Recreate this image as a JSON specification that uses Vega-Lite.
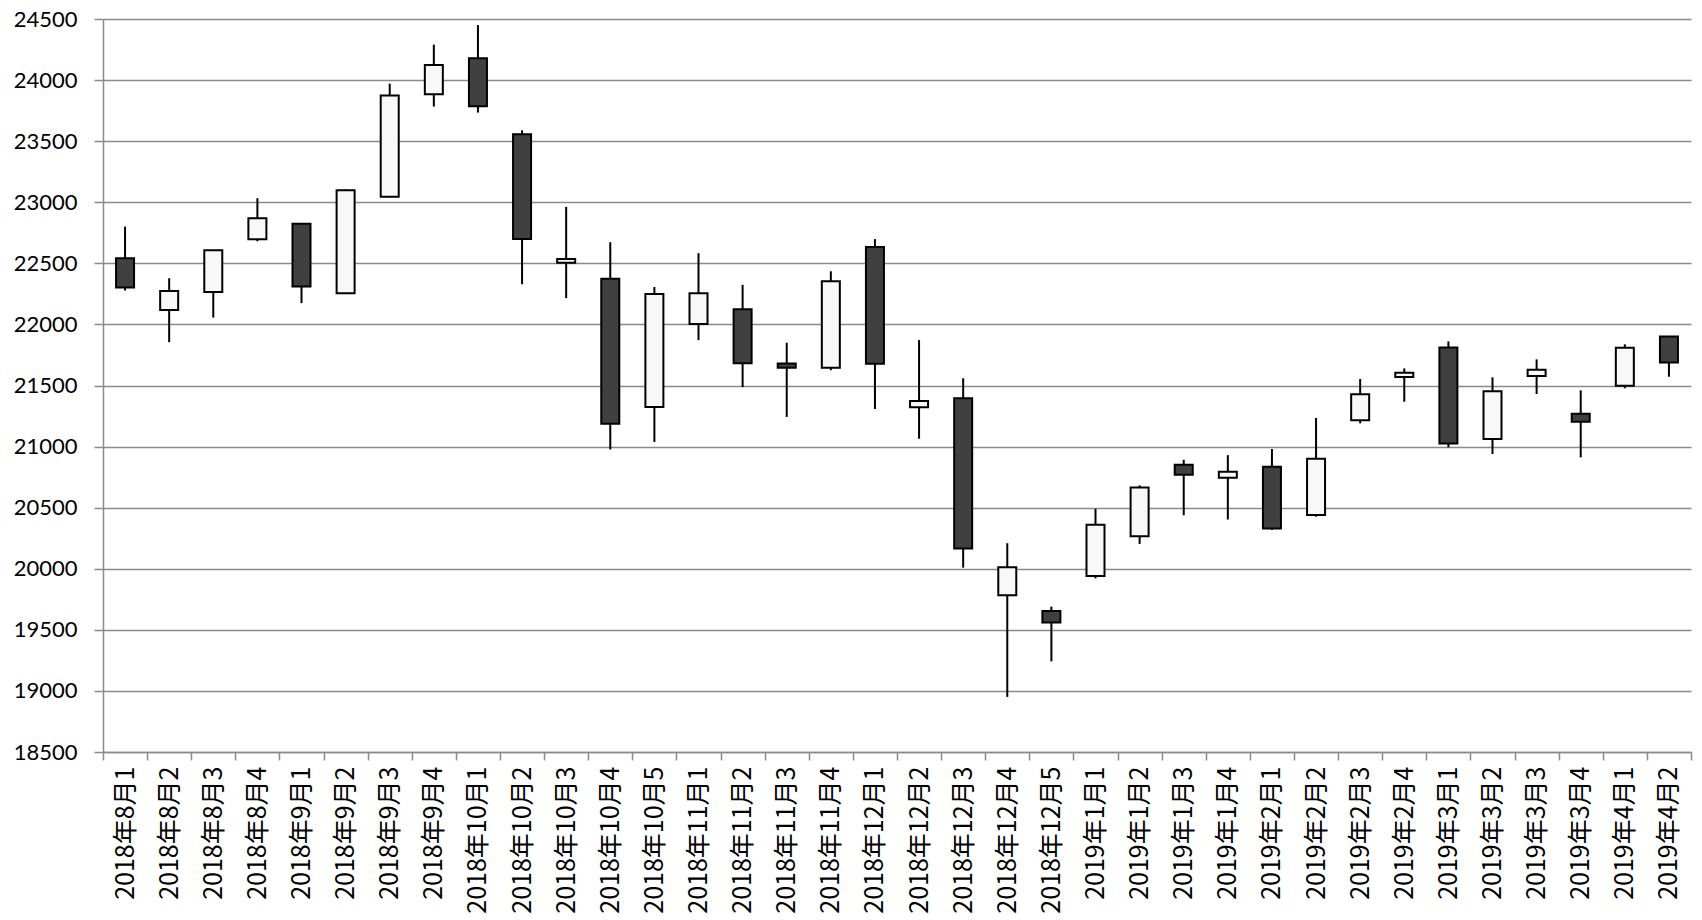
{
  "$schema": "https://vega.github.io/schema/vega-lite/v6.json",
  "width": 1588,
  "height": 733,
  "autosize": "none",
  "padding": {"left": 103, "top": 19, "right": 11, "bottom": 168},
  "background": "white",
  "config": {
    "view": {"stroke": null},
    "axis": {"domainColor": "#8a8a8a", "tickColor": "#8a8a8a", "gridColor": "#8a8a8a", "labelColor": "#000000", "domainWidth": 1.5, "tickWidth": 1.5, "gridWidth": 1.5}
  },
  "data": {
    "values": [
      {"label": "2018年8月1", "open": 22542, "high": 22801, "low": 22277, "close": 22302},
      {"label": "2018年8月2", "open": 22119, "high": 22378, "low": 21855, "close": 22274},
      {"label": "2018年8月3", "open": 22266, "high": 22607, "low": 22056, "close": 22607},
      {"label": "2018年8月4", "open": 22697, "high": 23033, "low": 22681, "close": 22869},
      {"label": "2018年9月1", "open": 22823, "high": 22823, "low": 22174, "close": 22310},
      {"label": "2018年9月2", "open": 22255, "high": 23105, "low": 22250, "close": 23098},
      {"label": "2018年9月3", "open": 23044, "high": 23971, "low": 23040, "close": 23873},
      {"label": "2018年9月4", "open": 23884, "high": 24290, "low": 23783, "close": 24124},
      {"label": "2018年10月1", "open": 24178, "high": 24451, "low": 23734, "close": 23785},
      {"label": "2018年10月2", "open": 23556, "high": 23589, "low": 22329, "close": 22700},
      {"label": "2018年10月3", "open": 22504, "high": 22962, "low": 22215, "close": 22536},
      {"label": "2018年10月4", "open": 22374, "high": 22673, "low": 20976, "close": 21186},
      {"label": "2018年10月5", "open": 21325, "high": 22306, "low": 21038, "close": 22249},
      {"label": "2018年11月1", "open": 22004, "high": 22583, "low": 21871, "close": 22256},
      {"label": "2018年11月2", "open": 22125, "high": 22324, "low": 21487, "close": 21683},
      {"label": "2018年11月3", "open": 21680, "high": 21850, "low": 21243, "close": 21645},
      {"label": "2018年11月4", "open": 21646, "high": 22435, "low": 21625, "close": 22354},
      {"label": "2018年12月1", "open": 22633, "high": 22698, "low": 21308, "close": 21678},
      {"label": "2018年12月2", "open": 21321, "high": 21872, "low": 21064, "close": 21374},
      {"label": "2018年12月3", "open": 21396, "high": 21559, "low": 20009, "close": 20166},
      {"label": "2018年12月4", "open": 19783, "high": 20209, "low": 18951, "close": 20012},
      {"label": "2018年12月5", "open": 19655, "high": 19690, "low": 19242, "close": 19561},
      {"label": "2019年1月1", "open": 19940, "high": 20491, "low": 19921, "close": 20360},
      {"label": "2019年1月2", "open": 20266, "high": 20682, "low": 20203, "close": 20666},
      {"label": "2019年1月3", "open": 20851, "high": 20892, "low": 20438, "close": 20770},
      {"label": "2019年1月4", "open": 20745, "high": 20930, "low": 20403, "close": 20795},
      {"label": "2019年2月1", "open": 20835, "high": 20980, "low": 20317, "close": 20330},
      {"label": "2019年2月2", "open": 20440, "high": 21234, "low": 20426, "close": 20901},
      {"label": "2019年2月3", "open": 21215, "high": 21553, "low": 21190, "close": 21428},
      {"label": "2019年2月4", "open": 21569, "high": 21640, "low": 21367, "close": 21605},
      {"label": "2019年3月1", "open": 21812, "high": 21861, "low": 20994, "close": 21026},
      {"label": "2019年3月2", "open": 21062, "high": 21567, "low": 20939, "close": 21452},
      {"label": "2019年3月3", "open": 21578, "high": 21714, "low": 21430, "close": 21629},
      {"label": "2019年3月4", "open": 21269, "high": 21460, "low": 20912, "close": 21204},
      {"label": "2019年4月1", "open": 21498, "high": 21837, "low": 21477, "close": 21810},
      {"label": "2019年4月2", "open": 21902, "high": 21905, "low": 21572, "close": 21689}
    ]
  },
  "encoding": {
    "x": {
      "field": "label", "type": "nominal", "sort": null,
      "scale": {"paddingInner": 0, "paddingOuter": 0},
      "axis": {"title": null, "labelAngle": -90, "labelFont": "Noto Sans CJK JP", "labelFontSize": 25, "tickBand": "extent", "tickSize": 8, "labelPadding": 6, "grid": false}
    }
  },
  "layer": [
    {
      "mark": {"type": "rule", "color": "#000000", "strokeWidth": 2},
      "encoding": {
        "y": {"field": "low", "type": "quantitative", "scale": {"domain": [18500, 24500], "nice": false, "zero": false},
          "axis": {"title": null, "values": [18500, 19000, 19500, 20000, 20500, 21000, 21500, 22000, 22500, 23000, 23500, 24000, 24500], "labelFont": "Lato", "labelFontSize": 22, "tickSize": 9, "labelPadding": 17, "grid": true, "format": "d"}},
        "y2": {"field": "high"}
      }
    },
    {
      "mark": {"type": "bar", "width": 18, "stroke": "#000000", "strokeWidth": 2},
      "encoding": {
        "y": {"field": "open", "type": "quantitative"},
        "y2": {"field": "close"},
        "fill": {"condition": {"test": "datum.close < datum.open", "value": "#404040"}, "value": "#f8f8f8"}
      }
    }
  ]
}
